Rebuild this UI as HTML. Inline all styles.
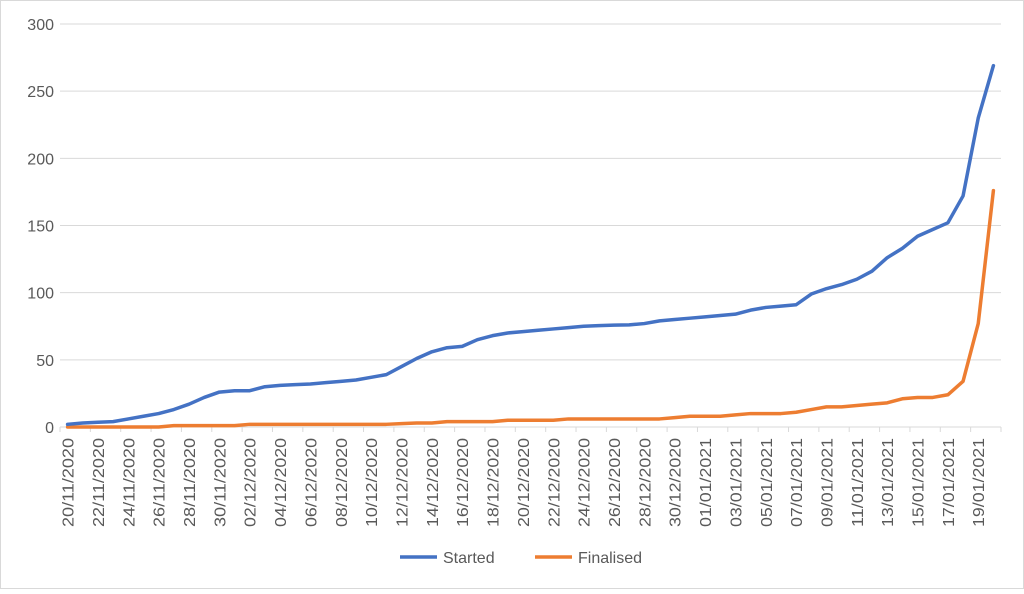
<!DOCTYPE html>
<html><head><meta charset="utf-8"><style>
body{margin:0;background:#fff;font-family:"Liberation Sans",sans-serif;}
</style></head><body>
<svg id="chart" width="1024" height="589" xmlns="http://www.w3.org/2000/svg"></svg>
<script>
const yTicks=[0,50,100,150,200,250,300];
const started=[2,3,3.5,4,6,8,10,13,17,22,26,27,27,30,31,31.5,32,33,34,35,37,39,45,51,56,59,60,65,68,70,71,72,73,74,75,75.5,75.8,76,77,79,80,81,82,83,84,87,89,90,91,99,103,106,110,116,126,133,142,147,152,172,230,269];
const finalised=[0,0,0,0,0,0,0,1,1,1,1,1,2,2,2,2,2,2,2,2,2,2,2.5,3,3,4,4,4,4,5,5,5,5,6,6,6,6,6,6,6,7,8,8,8,9,10,10,10,11,13,15,15,16,17,18,21,22,22,24,34,77,176];
const categories=(function(){const a=[];const d=new Date(2020,10,20);for(let i=0;i<62;i++){a.push(String(d.getDate()).padStart(2,'0')+'/'+String(d.getMonth()+1).padStart(2,'0')+'/'+d.getFullYear());d.setDate(d.getDate()+1);}return a;})();
const NS='http://www.w3.org/2000/svg';
const svg=document.getElementById('chart');
const L=60,R=1001,T=24,B=427;
const x=i=>L+(R-L)/categories.length*(i+0.5);
const y=v=>B-(B-T)*v/300;
function mk(t,a,p){const e=document.createElementNS(NS,t);for(const k in a)e.setAttribute(k,a[k]);(p||svg).appendChild(e);return e;}
const fr=mk('rect',{x:0.5,y:0.5,width:1023,height:588,fill:'none',stroke:'#d9d9d9'});


yTicks.forEach(v=>{
  const g=mk('line',{x1:L,x2:R,y1:y(v),y2:y(v),stroke:'#d9d9d9','stroke-width':1});
  
  
  const t=mk('text',{x:L-6,y:y(v)+6,'text-anchor':'end','font-size':16,fill:'#595959'});
  t.textContent=v;
  
  
});
for(let i=0;i<=categories.length;i+=2){
  const xx=L+(R-L)/categories.length*i;
  const tk=mk('line',{x1:xx,x2:xx,y1:B,y2:B+5,stroke:'#d9d9d9'});
  
  
}
categories.forEach((c,i)=>{
  if(i%2)return;
  const t=mk('text',{x:0,y:0,transform:`translate(${x(i)+6},${B+11}) rotate(-90)`,'text-anchor':'end','font-size':16,fill:'#595959',textLength:89,lengthAdjust:'spacingAndGlyphs'});
  t.textContent=c;
  
  
});
function series(data,color,name){
  const p=mk('polyline',{points:data.map((v,i)=>x(i)+','+y(v)).join(' '),fill:'none',stroke:color,'stroke-width':3.5,'stroke-linejoin':'round','stroke-linecap':'round'});
  
  
}
series(finalised,'#ed7d31','finalised-line');
series(started,'#4472c4','started-line');
[['Started','#4472c4',400],['Finalised','#ed7d31',535]].forEach(([n,c,lx])=>{
  const g=mk('g',{});
  
  
  mk('line',{x1:lx,x2:lx+37,y1:557,y2:557,stroke:c,'stroke-width':3.5},g);
  const t=mk('text',{x:lx+43,y:563,'font-size':16,fill:'#595959'},g);
  t.textContent=n;
});
</script>
</body></html>
